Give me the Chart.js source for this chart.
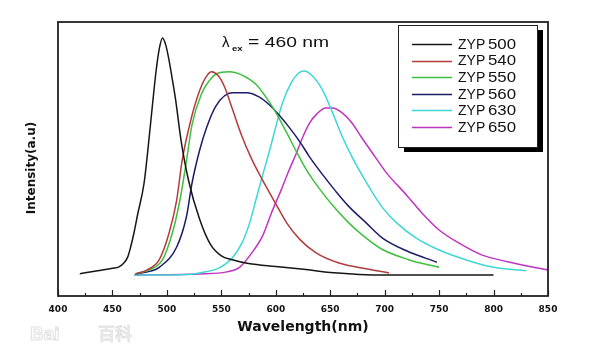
<!DOCTYPE html>
<html>
<head>
<meta charset="utf-8">
<script src="https://cdn.jsdelivr.net/npm/chart.js@4.4.1/dist/chart.umd.min.js"></script>
<style>
  html, body { margin: 0; padding: 0; background: #fff; }
  #spectra { display: block; }
</style>
</head>
<body>
<canvas id="spectra" width="600" height="350"></canvas>
<script>
// Emission spectra, excitation at 460 nm (intensity in arbitrary units)
const seriesLabels = ["ZYP500", "ZYP540", "ZYP550", "ZYP560", "ZYP630", "ZYP650"];

const zyp500Nm = [420, 435, 450, 456, 460, 464, 467, 470, 473, 479, 482, 487, 490, 493, 496, 499, 502, 505, 508, 513, 520, 530, 540, 550, 560, 575, 600, 630, 650, 700, 750, 800];
const zyp500I = [0.5, 1.5, 2.6, 3.2, 4.5, 7, 11.5, 17, 23.5, 36, 47, 68, 80, 89, 93.3, 90.5, 84.5, 77, 69, 53, 37, 22, 12, 7.5, 6, 4.5, 3.3, 2, 1, 0, 0, 0];

const zyp540Nm = [471, 482, 493, 502, 509, 514, 522, 530, 536, 541, 547, 553, 560, 569, 578, 587, 600, 610, 622, 637, 658, 683, 704];
const zyp540I = [0.4, 2, 6, 16.5, 29.5, 45, 61, 72.5, 78, 80, 78.5, 74, 65.5, 54.5, 45.5, 38, 28, 20.5, 14, 8.7, 4.7, 2.4, 0.8];

const zyp550Nm = [471, 484, 496, 505, 512, 518, 523, 532, 539, 546, 557, 569, 582, 591, 600, 610, 619, 628, 640, 652, 667, 683, 698, 722, 750];
const zyp550I = [0.4, 2, 6, 16.5, 29.5, 45, 59, 71.5, 76.5, 79.3, 80, 78.7, 75, 70, 64, 56, 48.5, 41.5, 34, 27.5, 20.5, 14.5, 10, 6, 3];

const zyp560Nm = [472, 485, 493, 509, 518, 523, 530, 536, 545, 560, 573, 585, 594, 603, 612, 622, 631, 643, 655, 667, 683, 698, 720, 748];
const zyp560I = [0.4, 1.5, 3, 11, 23, 36, 49, 57.5, 66.5, 71.7, 71.7, 70, 67, 63, 58.3, 52.5, 46.5, 39.5, 33, 27, 20.5, 14.5, 9.5, 5];

const zyp630Nm = [470, 500, 524, 530, 548, 560, 569, 576, 582, 588, 594, 600, 606, 614, 621, 626, 632, 643, 652, 661, 670, 679, 688, 698, 711, 729, 750, 775, 799, 830];
const zyp630I = [0, 0, 0.4, 0.8, 2.8, 6.7, 12.6, 20.5, 30, 39.4, 48.5, 58.3, 67.5, 75.5, 79.5, 80.3, 79, 72.8, 64, 54.5, 46.5, 39.5, 33, 26.5, 20.5, 14.5, 9.8, 5.9, 3.1, 1.6];

const zyp650Nm = [470, 530, 555, 567, 578, 588, 596, 605, 612, 619, 625, 631, 638, 646, 652, 661, 670, 679, 692, 702, 720, 734, 750, 768, 789, 814, 839, 850];
const zyp650I = [0, 0.4, 1.2, 3.1, 8.7, 15.5, 24.4, 33.5, 41, 48, 54.5, 59.8, 63.5, 65.7, 65.7, 63.8, 59.8, 54, 46, 40, 31.5, 24.5, 17.7, 12.6, 7.9, 5.1, 2.8, 2];

const xTickValues = [400, 450, 500, 550, 600, 650, 700, 750, 800, 850];
const xMinorTicks = [425, 475, 525, 575, 625, 675, 725, 775, 825];

const seriesNm = [zyp500Nm, zyp540Nm, zyp550Nm, zyp560Nm, zyp630Nm, zyp650Nm];
const seriesI = [zyp500I, zyp540I, zyp550I, zyp560I, zyp630I, zyp650I];
const seriesColors = ["#161616", "#b23c3c", "#3fbf3f", "#1c1c6a", "#3fd6d6", "#c035c0"];

const toPoints = (nm, vals) => nm.map((w, i) => ({ x: w, y: vals[i] }));

const datasets = seriesLabels.map((label, i) => ({
  label,
  data: toPoints(seriesNm[i], seriesI[i]),
  borderColor: seriesColors[i],
  borderWidth: 1.5,
  pointRadius: 0,
  fill: false,
  cubicInterpolationMode: "monotone",
}));

// text drawn wider than the font, like the rest of the figure
const wideText = (ctx, text, x, y, stretch) => {
  ctx.save();
  ctx.translate(x, y);
  ctx.scale(stretch, 1);
  ctx.fillText(text, 0, 0);
  ctx.restore();
};

// frame, inward ticks, legend box and the text around the plot
const decorPlugin = {
  id: "decor",
  afterDraw(chart) {
    const { ctx, chartArea: a, scales: { x } } = chart;
    ctx.save();

    ctx.strokeStyle = "#222";
    ctx.lineWidth = 1.2;
    const tick = (nm, len) => {
      const px = Math.round(x.getPixelForValue(nm)) + 0.5;
      ctx.beginPath();
      ctx.moveTo(px, a.bottom);
      ctx.lineTo(px, a.bottom - len);
      ctx.stroke();
    };
    xTickValues.forEach((nm) => tick(nm, 6));
    xMinorTicks.forEach((nm) => tick(nm, 3));

    ctx.lineWidth = 1.8;
    ctx.strokeRect(a.left, a.top, a.right - a.left, a.bottom - a.top);

    // y axis title
    ctx.fillStyle = "#111";
    ctx.font = "bold 12px 'DejaVu Sans'";
    ctx.textAlign = "center";
    ctx.textBaseline = "middle";
    ctx.translate(32, 168);
    ctx.rotate(-Math.PI / 2);
    ctx.fillText("Intensity(a.u)", 0, 0);
    ctx.setTransform(1, 0, 0, 1, 0, 0);

    // excitation wavelength note
    ctx.textAlign = "left";
    ctx.textBaseline = "alphabetic";
    ctx.font = "15px 'Liberation Sans', Arial";
    ctx.fillText("λ", 222, 47);
    ctx.font = "bold 8px 'Liberation Sans', Arial";
    wideText(ctx, "ex", 232, 51, 1.2);
    ctx.font = "14px 'Liberation Sans', Arial";
    wideText(ctx, "= 460 nm", 248, 47, 1.38);

    // legend with drop shadow
    const lx = 398, ly = 25, lw = 139, lh = 122;
    ctx.fillStyle = "#000";
    ctx.fillRect(lx + 6, ly + 5, lw, lh);
    ctx.fillStyle = "#fff";
    ctx.fillRect(lx, ly, lw, lh);
    ctx.strokeStyle = "#222";
    ctx.lineWidth = 1;
    ctx.strokeRect(lx + 0.5, ly + 0.5, lw, lh);

    ctx.font = "14px 'Liberation Sans', Arial";
    ctx.textBaseline = "middle";
    chart.data.datasets.forEach((ds, i) => {
      const y = 44 + i * 16.6;
      ctx.strokeStyle = ds.borderColor;
      ctx.lineWidth = 1.3;
      ctx.beginPath();
      ctx.moveTo(412, Math.round(y) + 0.5);
      ctx.lineTo(452, Math.round(y) + 0.5);
      ctx.stroke();
      ctx.fillStyle = "#111";
      ctx.fillText(ds.label.slice(0, 3), 458, y + 1);
      wideText(ctx, ds.label.slice(3), 488, y + 1, 1.2);
    });

    // faint site watermark, bottom left
    ctx.strokeStyle = "#e0e0e0";
    ctx.lineWidth = 1;
    ctx.font = "bold 19px 'Liberation Sans', Arial";
    ctx.strokeText("Bai", 30, 335);
    ctx.font = "17px 'Noto Sans CJK SC'";
    ctx.strokeText("百科", 98, 334);

    ctx.restore();
  },
};

new Chart(document.getElementById("spectra"), {
  type: "line",
  data: { datasets },
  options: {
    responsive: false,
    animation: false,
    events: [],
    layout: { padding: { left: 58, right: 52, top: 22, bottom: 0 } },
    plugins: { legend: { display: false }, tooltip: { enabled: false } },
    scales: {
      x: {
        type: "linear",
        min: 400,
        max: 850,
        afterBuildTicks: (scale) => {
          scale.ticks = xTickValues.map((v) => ({ value: v }));
        },
        afterFit: (scale) => {
          scale.height = 54;
        },
        grid: { display: false, drawTicks: false },
        border: { display: false },
        ticks: {
          color: "#111",
          padding: 8,
          maxRotation: 0,
          autoSkip: false,
          font: { family: "'DejaVu Sans'", size: 9, weight: "bold" },
        },
        title: {
          display: true,
          text: "Wavelength(nm)",
          color: "#111",
          padding: { top: 0, bottom: 16 },
          font: { family: "'DejaVu Sans'", size: 14, weight: "bold", lineHeight: 1 },
        },
      },
      y: {
        display: false,
        min: -8.3,
        max: 99.6,
      },
    },
  },
  plugins: [decorPlugin],
});
</script>
</body>
</html>
